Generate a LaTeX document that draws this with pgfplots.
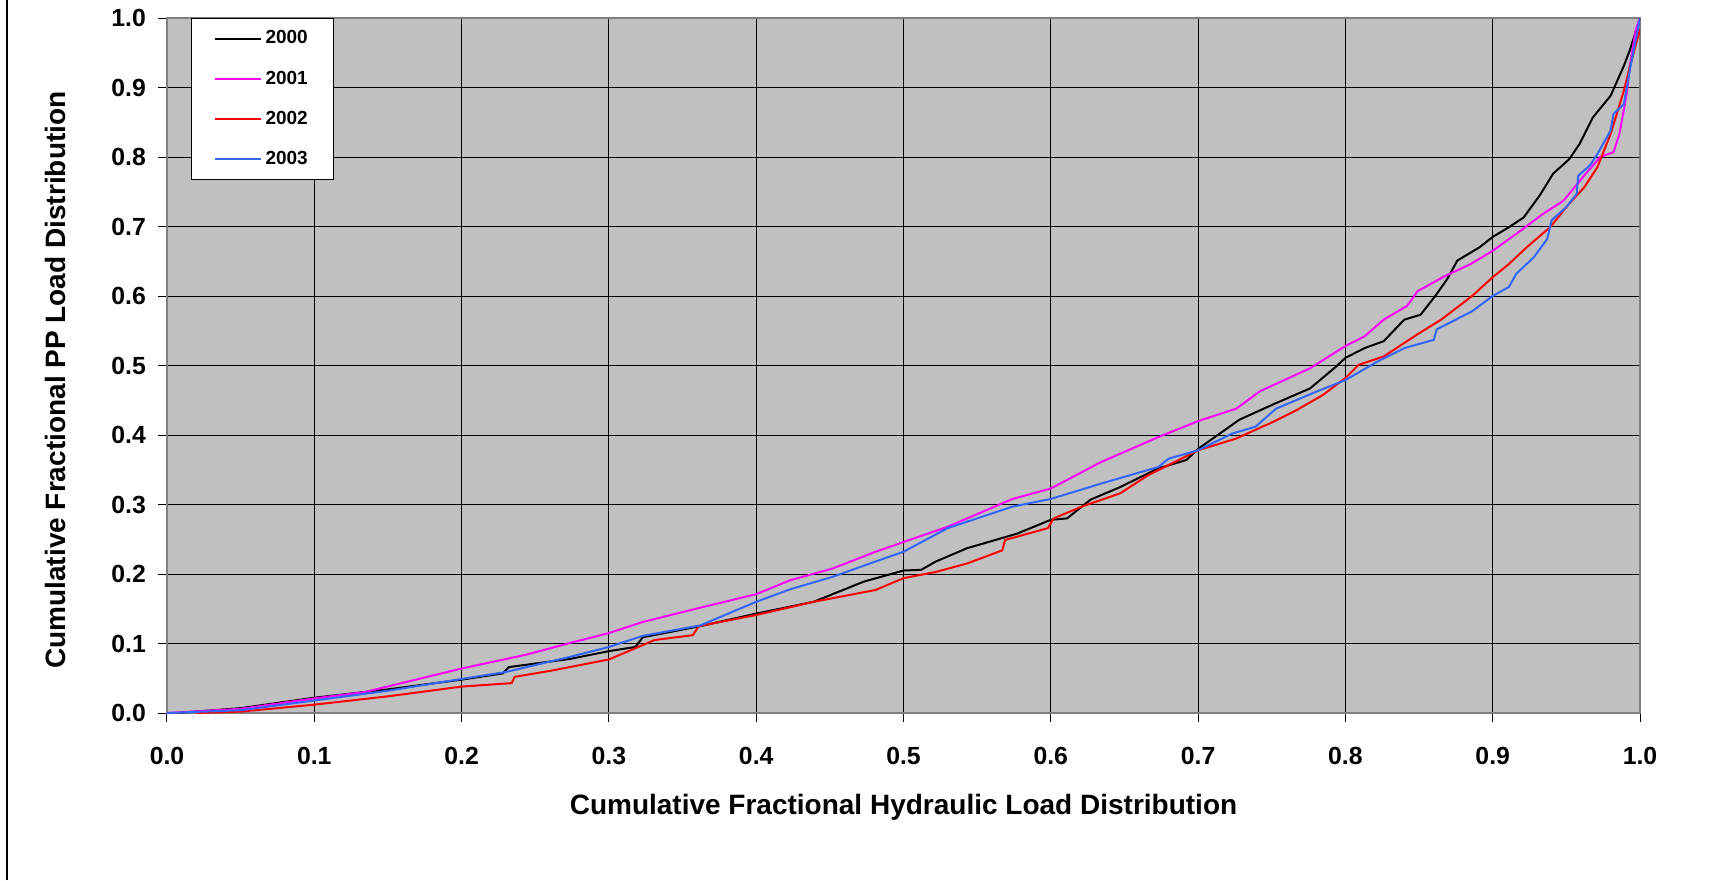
\documentclass[border=0pt]{standalone}
\usepackage{pgfplots}
\pgfplotsset{compat=1.18}
\usepackage{fontspec}
\setmainfont{Liberation Sans}
\definecolor{plotgray}{HTML}{C0C0C0}
\definecolor{c2001}{HTML}{FF00FF}
\definecolor{c2002}{HTML}{FF0000}
\definecolor{c2003}{HTML}{3366FF}
\begin{document}
\begin{tikzpicture}
\path[use as bounding box] (-83.5pt,-83.5pt) rectangle (784.5pt,356.5pt);
\draw[black, line width=0.6pt] (-80pt,-83.5pt) -- (-80pt,356.5pt);
\begin{axis}[
  at={(0,0)}, anchor=south west,
  width=736.5pt, height=347.5pt, scale only axis,
  xmin=0, xmax=1, ymin=0, ymax=1,
  xtick={0,0.1,...,1.01}, ytick={0,0.1,...,1.01},
  grid=major,
  major grid style={black, line width=0.5pt},
  axis background/.style={fill=plotgray},
  axis line style={draw=gray, line width=0.8pt},
  tick align=outside, tick pos=left,
  major tick length=4.5pt,
  tick style={black, line width=0.5pt},
  /pgf/number format/.cd, fixed, fixed zerofill, precision=1, assume math mode=true,
  /pgfplots/.cd,
  ticklabel style={font=\fontsize{12.4}{14}\selectfont\bfseries},
  xticklabel style={yshift=-9pt},
  yticklabel style={xshift=-2.5pt},
  xlabel={Cumulative Fractional Hydraulic Load Distribution},
  ylabel={Cumulative Fractional PP Load Distribution},
  label style={font=\fontsize{14}{16}\selectfont\bfseries},
  xlabel style={at={(axis description cs:0.5,-0.1353)}, anchor=center},
  ylabel style={at={(axis description cs:-0.076,0.479)}, anchor=center},
  legend style={at={(axis description cs:0.0163,1.0)}, anchor=north west,
    draw=black, line width=0.5pt, fill=white,
    font=\fontsize{9.5}{11}\selectfont\bfseries,
    row sep=8pt, inner xsep=11pt, inner ysep=4pt},
  legend cell align=left,
  legend image code/.code={\draw[#1] (0pt,0pt) -- (23pt,0pt);},
  every axis plot/.append style={line width=1pt},
]
\addplot[black] coordinates {
(0.007,0) (0.05,0.007) (0.1,0.022) (0.15,0.034) (0.2,0.048) (0.228,0.057) (0.232,0.066)
(0.274,0.078) (0.3,0.089) (0.318,0.095) (0.323,0.109) (0.362,0.125) (0.4,0.143) (0.439,0.160)
(0.473,0.189) (0.5,0.205) (0.512,0.206) (0.522,0.218) (0.543,0.237) (0.577,0.258) (0.6,0.278)
(0.611,0.280) (0.627,0.307) (0.647,0.325) (0.673,0.352) (0.692,0.364) (0.7,0.380) (0.728,0.422)
(0.753,0.446) (0.776,0.467) (0.794,0.499) (0.8,0.511) (0.813,0.525) (0.826,0.535) (0.840,0.566)
(0.851,0.573) (0.861,0.600) (0.869,0.624) (0.876,0.651) (0.891,0.670) (0.9,0.685) (0.911,0.699)
(0.921,0.713) (0.932,0.745) (0.941,0.776) (0.952,0.797) (0.959,0.819) (0.968,0.857) (0.980,0.888)
(0.989,0.931) (0.993,0.953) (1.0,1.0)
};
\addlegendentry{2000}
\addplot[c2001] coordinates {
(0,0) (0.05,0.006) (0.1,0.021) (0.134,0.030) (0.2,0.064) (0.244,0.084) (0.274,0.101) (0.3,0.115)
(0.323,0.131) (0.361,0.151) (0.4,0.171) (0.423,0.191) (0.452,0.208) (0.481,0.232) (0.5,0.246)
(0.530,0.268) (0.574,0.308) (0.6,0.323) (0.634,0.361) (0.673,0.397) (0.7,0.420) (0.726,0.438)
(0.742,0.463) (0.776,0.496) (0.8,0.528) (0.813,0.542) (0.826,0.566) (0.842,0.586) (0.849,0.607)
(0.867,0.628) (0.885,0.646) (0.9,0.665) (0.919,0.694) (0.934,0.718) (0.948,0.737) (0.962,0.773)
(0.973,0.800) (0.982,0.807) (0.986,0.833) (0.991,0.891) (0.993,0.929) (0.997,0.982) (1.0,1.0)
};
\addlegendentry{2001}
\addplot[c2002] coordinates {
(0.02,0) (0.05,0.002) (0.1,0.012) (0.15,0.024) (0.2,0.038) (0.234,0.043) (0.236,0.052) (0.261,0.061)
(0.3,0.077) (0.31,0.086) (0.331,0.105) (0.357,0.112) (0.361,0.125) (0.4,0.141) (0.439,0.160)
(0.481,0.177) (0.5,0.194) (0.522,0.203) (0.543,0.215) (0.567,0.234) (0.569,0.249) (0.598,0.266)
(0.602,0.280) (0.621,0.297) (0.647,0.316) (0.666,0.342) (0.7,0.378) (0.726,0.395) (0.751,0.419)
(0.767,0.436) (0.785,0.458) (0.8,0.482) (0.809,0.501) (0.826,0.513) (0.849,0.545) (0.865,0.566)
(0.886,0.600) (0.9,0.627) (0.911,0.646) (0.923,0.670) (0.939,0.699) (0.952,0.733) (0.962,0.756)
(0.971,0.785) (0.980,0.833) (0.989,0.895) (0.993,0.929) (1.0,0.984)
};
\addlegendentry{2002}
\addplot[c2003] coordinates {
(0,0) (0.05,0.004) (0.1,0.018) (0.15,0.032) (0.2,0.049) (0.23,0.059) (0.274,0.081) (0.3,0.095)
(0.323,0.111) (0.362,0.126) (0.4,0.160) (0.423,0.178) (0.452,0.196) (0.481,0.218) (0.5,0.232)
(0.530,0.266) (0.574,0.297) (0.6,0.308) (0.634,0.330) (0.673,0.354) (0.68,0.366) (0.7,0.378)
(0.723,0.402) (0.739,0.412) (0.753,0.438) (0.781,0.463) (0.8,0.479) (0.822,0.506) (0.840,0.525)
(0.860,0.537) (0.862,0.552) (0.886,0.578) (0.9,0.600) (0.911,0.613) (0.916,0.632) (0.928,0.656)
(0.937,0.682) (0.940,0.709) (0.950,0.728) (0.957,0.747) (0.958,0.773) (0.966,0.788) (0.971,0.804)
(0.980,0.838) (0.982,0.862) (0.989,0.876) (0.993,0.924) (1.0,1.0)
};
\addlegendentry{2003}
\end{axis}
\end{tikzpicture}
\end{document}
